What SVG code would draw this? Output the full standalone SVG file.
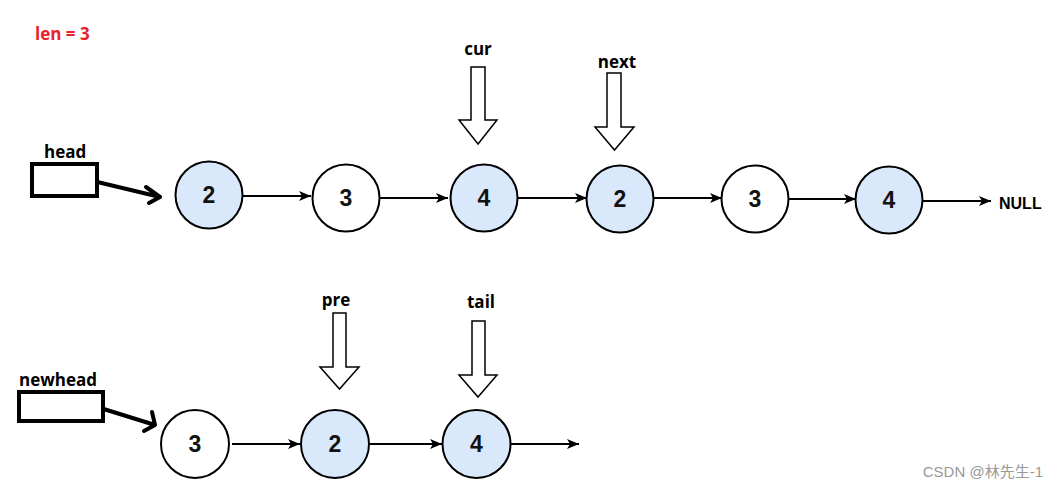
<svg xmlns="http://www.w3.org/2000/svg" width="1059" height="491" viewBox="0 0 1059 491">
<defs>
<marker id="ah" viewBox="0 0 12 10" refX="12" refY="5" markerWidth="12" markerHeight="10" markerUnits="userSpaceOnUse" orient="auto">
<path d="M0,0 L12,5 L0,10 L3,5 Z" fill="#000"/>
</marker>
</defs>
<style>
.n{stroke:#000;stroke-width:2}
.b{fill:#dae8fc}
.w{fill:#fff}
.v{font-family:"Liberation Sans",Arial,sans-serif;font-weight:bold;font-size:23px;text-anchor:middle;fill:#111}
.lb{font-family:"Open Sans","Noto Sans",sans-serif;font-weight:bold;font-size:17px;fill:#000}
.c{stroke:#000;stroke-width:2;fill:none}
.ptr{fill:#fff;stroke:#000;stroke-width:1.5}
.box{fill:#fff;stroke:#000;stroke-width:4}
.thick{stroke:#000;stroke-width:4;fill:none;stroke-linecap:round;stroke-linejoin:round}
</style>
<rect width="1059" height="491" fill="#fff"/>
<text x="35" y="40" font-family="'Open Sans','Noto Sans',sans-serif" font-weight="bold" font-size="17" fill="#e8202a">len = 3</text>
<g id="connectors">
<line class="c" x1="243" y1="196" x2="311" y2="196" marker-end="url(#ah)"/>
<line class="c" x1="380" y1="198" x2="448" y2="198" marker-end="url(#ah)"/>
<line class="c" x1="518" y1="198" x2="587" y2="198" marker-end="url(#ah)"/>
<line class="c" x1="654" y1="198" x2="722" y2="198" marker-end="url(#ah)"/>
<line class="c" x1="789" y1="199" x2="856" y2="199" marker-end="url(#ah)"/>
<line class="c" x1="923" y1="201" x2="991" y2="201" marker-end="url(#ah)"/>
<line class="c" x1="232" y1="444" x2="300" y2="444" marker-end="url(#ah)"/>
<line class="c" x1="369" y1="444" x2="442" y2="444" marker-end="url(#ah)"/>
<line class="c" x1="511" y1="444" x2="579" y2="444" marker-end="url(#ah)"/>
<path class="thick" d="M89,180 L160,197 M146,187 L160,197 L149,203"/>
<path class="thick" d="M94,406 L155,425 M152,412 L155,425 L144,431"/>
</g>
<g id="head"><text class="lb" x="44" y="158">head</text><rect class="box" x="32" y="164" width="65" height="32"/></g>
<g id="newhead"><text class="lb" x="19" y="386">newhead</text><rect class="box" x="19" y="392" width="84" height="29"/></g>
<g id="n1"><circle class="n b" cx="209" cy="195" r="33.5"/><text class="v" x="209" y="203">2</text></g>
<g id="n2"><circle class="n w" cx="346" cy="198" r="33.5"/><text class="v" x="346" y="206">3</text></g>
<g id="n3"><circle class="n b" cx="484" cy="198" r="33.5"/><text class="v" x="484" y="206">4</text></g>
<g id="n4"><circle class="n b" cx="620" cy="199" r="33.5"/><text class="v" x="620" y="207">2</text></g>
<g id="n5"><circle class="n w" cx="755" cy="199" r="33.5"/><text class="v" x="755" y="207">3</text></g>
<g id="n6"><circle class="n b" cx="889" cy="200" r="33.5"/><text class="v" x="889" y="208">4</text></g>
<g id="null"><text x="999" y="209" font-family="'Liberation Sans',Arial,sans-serif" font-weight="bold" font-size="16" fill="#000">NULL</text></g>
<g id="m1"><circle class="n w" cx="195" cy="444" r="34"/><text class="v" x="195" y="452">3</text></g>
<g id="m2"><circle class="n b" cx="335" cy="444" r="34"/><text class="v" x="335" y="452">2</text></g>
<g id="m3"><circle class="n b" cx="476.5" cy="444" r="34"/><text class="v" x="476.5" y="452">4</text></g>
<g id="cur"><text class="lb" x="478" y="55" text-anchor="middle" font-size="19">cur</text><path class="ptr" d="M471,67 H485 V120 H497 L478,144 L459,120 H471 Z"/></g>
<g id="next"><text class="lb" x="617" y="68" text-anchor="middle">next</text><path class="ptr" d="M607,73 H621 V127 H634 L614.5,150 L595,127 H607 Z"/></g>
<g id="pre"><text class="lb" x="336" y="306" text-anchor="middle">pre</text><path class="ptr" d="M333,313 H346 V367 H359 L339.5,389 L320,367 H333 Z"/></g>
<g id="tail"><text class="lb" x="481" y="308" text-anchor="middle">tail</text><path class="ptr" d="M472,321 H485 V375 H497 L478,397 L459,375 H472 Z"/></g>
<text x="1043" y="477" text-anchor="end" font-family="'Liberation Sans','Noto Sans CJK SC',sans-serif" font-size="15" fill="#999">CSDN @林先生-1</text>
</svg>
